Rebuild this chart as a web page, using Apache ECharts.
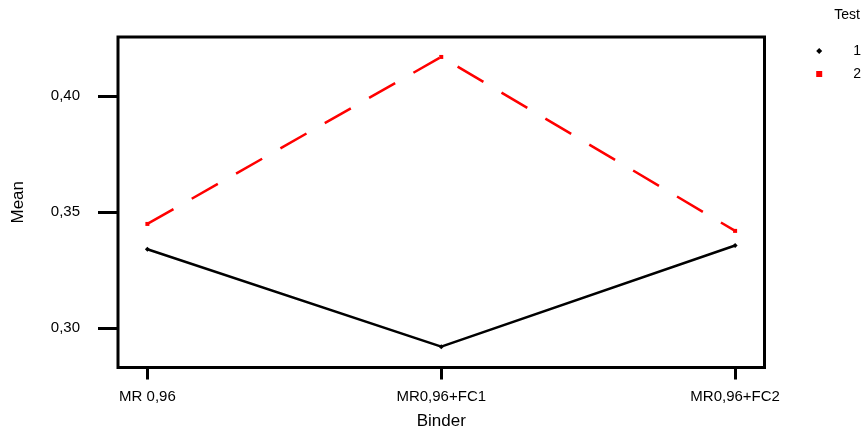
<!DOCTYPE html>
<html>
<head>
<meta charset="utf-8">
<script src="https://cdn.jsdelivr.net/npm/echarts@6/dist/echarts.min.js"></script>
<style>
html,body{margin:0;padding:0;background:#fff;}
#chart{width:866px;height:427px;}
</style>
</head>
<body>
<div id="chart"></div>
<script>
const categories = ['MR 0,96', 'MR0,96+FC1', 'MR0,96+FC2'];
const seriesNames = ['1', '2'];
const test1 = [0.3340, 0.2920, 0.3356];
const test2 = [0.3449, 0.4169, 0.3419];
const yTicks = [0.30, 0.35, 0.40];
const xTicks = [0, 1, 2];

const chart = echarts.init(document.getElementById('chart'));
const font = '"Liberation Sans", Arial, sans-serif';

chart.setOption({
  animation: false,
  backgroundColor: '#fff',
  title: {
    text: 'Test',
    right: 6,
    top: 8,
    padding: 0,
    textStyle: {fontFamily: font, fontSize: 14, fontWeight: 'normal', color: '#000'}
  },
  legend: {
    orient: 'vertical',
    right: 0,
    top: 39,
    itemWidth: 6,
    itemHeight: 6,
    itemGap: 9,
    textStyle: {fontFamily: font, fontSize: 14, color: '#000', padding: [0, 0, 0, 26]},
    data: [
      {name: seriesNames[0], icon: 'diamond'},
      {name: seriesNames[1], icon: 'rect'}
    ]
  },
  grid: {
    left: 118, right: 101.5, top: 37, bottom: 59.5,
    outerBoundsMode: 'none',
    containLabel: false,
    show: true, borderWidth: 3, borderColor: '#000', backgroundColor: 'transparent'
  },
  xAxis: {
    type: 'value',
    min: -0.1,
    max: 2.1,
    name: 'Binder',
    nameLocation: 'middle',
    nameGap: 45,
    nameMoveOverlap: false,
    nameTextStyle: {fontFamily: font, fontSize: 17, color: '#000'},
    axisLine: {show: false, onZero: false},
    splitLine: {show: false},
    axisTick: {show: true, customValues: xTicks, length: 12, inside: false, lineStyle: {color: '#000', width: 3}},
    axisLabel: {
      customValues: xTicks,
      margin: 22,
      fontFamily: font, fontSize: 15, color: '#000',
      formatter: v => categories[Math.round(v)]
    }
  },
  yAxis: {
    type: 'value',
    min: 0.283,
    max: 0.4255,
    name: 'Mean',
    nameLocation: 'middle',
    nameGap: 91,
    nameMoveOverlap: false,
    nameTextStyle: {fontFamily: font, fontSize: 17, color: '#000'},
    axisLine: {show: false, onZero: false},
    splitLine: {show: false},
    axisTick: {show: true, customValues: yTicks, length: 20, inside: false, lineStyle: {color: '#000', width: 3}},
    axisLabel: {
      customValues: yTicks,
      margin: 38,
      fontFamily: font, fontSize: 15, color: '#000',
      formatter: v => v.toFixed(2).replace('.', ',')
    }
  },
  series: [
    {
      name: seriesNames[0],
      type: 'line',
      data: xTicks.map((x, i) => [x, test1[i]]),
      symbol: 'diamond',
      symbolSize: 5,
      itemStyle: {color: '#000'},
      lineStyle: {color: '#000', width: 2.5, type: 'solid'}
    },
    {
      name: seriesNames[1],
      type: 'line',
      data: xTicks.map((x, i) => [x, test2[i]]),
      symbol: 'rect',
      symbolSize: 4,
      itemStyle: {color: '#ff0000'},
      lineStyle: {color: '#ff0000', width: 2.5, type: [30, 21]}
    }
  ]
});
</script>
</body>
</html>
